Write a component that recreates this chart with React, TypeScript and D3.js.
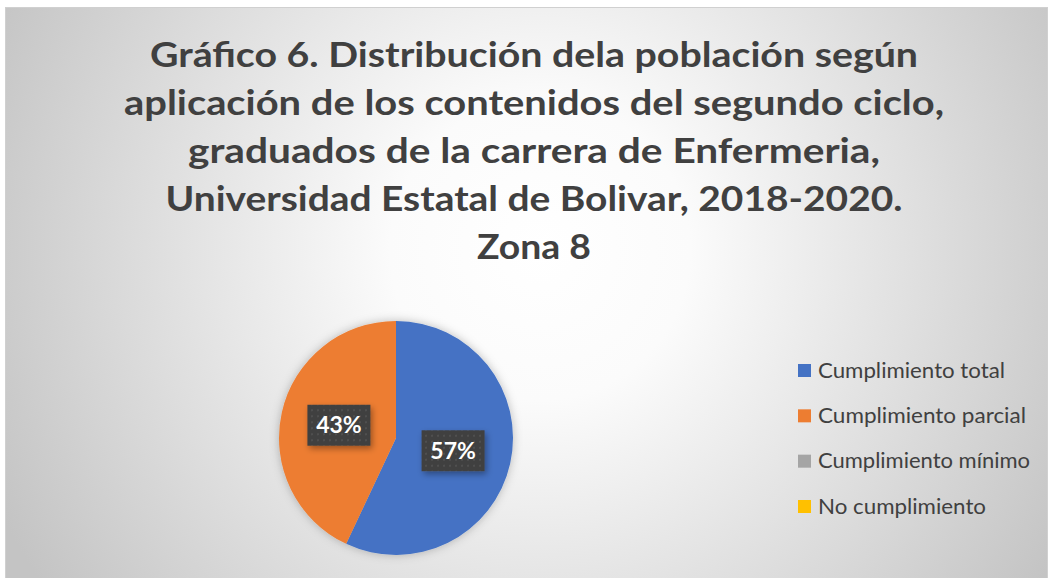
import React from "react";
import * as d3 from "d3";

const categories = ["Cumplimiento total", "Cumplimiento parcial", "Cumplimiento mínimo", "No cumplimiento"];
const values = [57, 43, 0, 0];
const colors = ["#4472C4", "#ED7D31", "#A5A5A5", "#FFC000"];
const titleLines = [
  "Gráfico 6. Distribución dela población según",
  "aplicación de los contenidos del segundo ciclo,",
  "graduados de la carrera de Enfermeria,",
  "Universidad Estatal de Bolivar, 2018-2020.",
  "Zona 8",
];
const titleWidths = [768, 820, 692, 737, 114];
const legendWidths = [187, 208, 212, 168];

export default function App() {
  const W = 1051;
  const H = 578;
  const cx = 396;
  const cy = 438;
  const r = 117;
  const total = d3.sum(values);
  const pie = d3.pie<number>().sort(null).value((d) => d);
  const arcs = pie(values);
  const arcGen = d3.arc<d3.PieArcDatum<number>>().innerRadius(0).outerRadius(r);
  const legendY = d3.scaleLinear().domain([0, 3]).range([370.5, 506.5]);
  const titleY = d3.scaleLinear().domain([0, 4]).range([67, 259]);

  return (
    <svg width={W} height={H} style={{ position: "absolute", left: 0, top: 0 }} xmlns="http://www.w3.org/2000/svg">
      <defs>
        <radialGradient id="bg" gradientUnits="userSpaceOnUse" cx={540} cy={250} r={600}>
          <stop offset="0" stopColor="#ffffff" />
          <stop offset="0.25" stopColor="#fbfbfb" />
          <stop offset="1" stopColor="#c4c4c4" />
        </radialGradient>
        <filter id="pieShadow" x="-20%" y="-20%" width="140%" height="140%">
          <feDropShadow dx="0" dy="0" stdDeviation="5" floodColor="#000" floodOpacity="0.25" />
        </filter>
        <filter id="boxShadow" x="-30%" y="-30%" width="160%" height="160%">
          <feDropShadow dx="2" dy="3" stdDeviation="3" floodColor="#000" floodOpacity="0.35" />
        </filter>
        <pattern id="dots" width="6" height="6" patternUnits="userSpaceOnUse">
          <rect width="6" height="6" fill="#404040" />
          <circle cx="3" cy="3" r="1" fill="#555555" />
        </pattern>
      </defs>
      <rect x={0} y={0} width={W} height={H} fill="#ffffff" />
      <rect x={5.5} y={7.5} width={1042} height={575} fill="url(#bg)" stroke="#d0d0d0" strokeWidth={1} />

      {titleLines.map((t, i) => (
        <text
          key={i}
          x={534}
          y={titleY(i)}
          textAnchor="middle"
          fontFamily="Lato, 'Open Sans', sans-serif"
          fontWeight="bold"
          fontSize={35}
          fill="#404040"
          textLength={titleWidths[i]}
          lengthAdjust="spacingAndGlyphs"
        >
          {t}
        </text>
      ))}

      <g transform={`translate(${cx},${cy})`}>
        <g filter="url(#pieShadow)">
          {arcs.map((a, i) =>
            a.value > 0 ? <path key={i} d={arcGen(a) || ""} fill={colors[i]} /> : null
          )}
        </g>
        {arcs.map((a, i) => {
          if (a.value <= 0) return null;
          const [lx, ly] = arcGen.centroid(a);
          const bw = 63;
          const bh = 41;
          return (
            <g key={"l" + i} transform={`translate(${lx},${ly})`}>
              <rect x={-bw / 2} y={-bh / 2} width={bw} height={bh} fill="url(#dots)" filter="url(#boxShadow)" />
              <text
                x={0}
                y={8}
                textAnchor="middle"
                fontFamily="Lato, 'Open Sans', sans-serif"
                fontWeight="bold"
                fontSize={23}
                fill="#ffffff"
              >
                {Math.round((a.value / total) * 100) + "%"}
              </text>
            </g>
          );
        })}
      </g>

      {categories.map((c, i) => (
        <g key={c} transform={`translate(798,${legendY(i)})`}>
          <rect x={0} y={-6.5} width={13} height={13} fill={colors[i]} />
          <text
            x={20}
            y={7}
            fontFamily="Lato, 'Open Sans', sans-serif"
            fontSize={21}
            fill="#404040"
            textLength={legendWidths[i]}
            lengthAdjust="spacingAndGlyphs"
          >
            {c}
          </text>
        </g>
      ))}
    </svg>
  );
}
